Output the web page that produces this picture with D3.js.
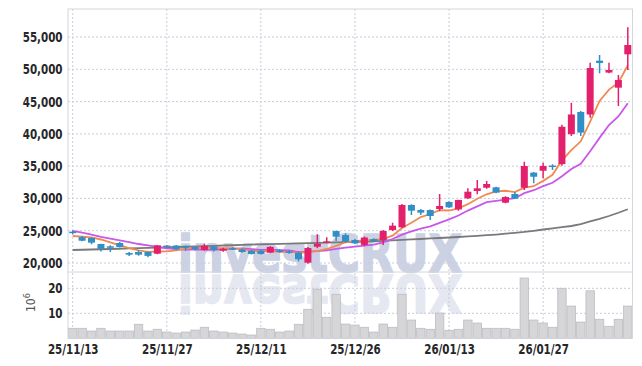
<!DOCTYPE html>
<html>
<head>
<meta charset="utf-8">
<script src="https://cdn.jsdelivr.net/npm/d3@7"></script>
<style>
    body { margin: 0; background: #fff; }
    .tick text { font-family: 'DejaVu Sans Condensed', sans-serif; }
</style>
</head>
<body>
<svg id="chart" width="642" height="366"></svg>
<script>
const dates = [
    '25/11/13', '25/11/14', '25/11/17', '25/11/18', '25/11/19', '25/11/20', '25/11/21', '25/11/24', '25/11/25', '25/11/26',
    '25/11/27', '25/11/28', '25/12/01', '25/12/02', '25/12/03', '25/12/04', '25/12/05', '25/12/08', '25/12/09', '25/12/10',
    '25/12/11', '25/12/12', '25/12/15', '25/12/16', '25/12/17', '25/12/18', '25/12/19', '25/12/22', '25/12/23', '25/12/24',
    '25/12/26', '25/12/29', '25/12/30', '26/01/02', '26/01/05', '26/01/06', '26/01/07', '26/01/08', '26/01/09', '26/01/12',
    '26/01/13', '26/01/14', '26/01/15', '26/01/16', '26/01/19', '26/01/20', '26/01/21', '26/01/22', '26/01/23', '26/01/26',
    '26/01/27', '26/01/28', '26/01/29', '26/01/30', '26/02/02', '26/02/03', '26/02/04', '26/02/05', '26/02/06', '26/02/09'
]
const opens = [
    24850, 24000, 23870, 22940, 22590, 23100, 21550, 21700, 21700, 21440,
    22700, 22700, 22600, 22500, 22000, 22550, 21900, 22300, 22100, 21900,
    21900, 21600, 21950, 21800, 21600, 20050, 22520, 23200, 24950, 24330,
    23560, 22800, 23700, 23560, 25100, 25530, 28980, 28200, 28200, 28360,
    29450, 28300, 30020, 31150, 31660, 31720, 29340, 30690, 31660, 34000,
    34290, 35090, 35320, 39950, 43390, 43000, 51340, 49490, 47150, 52320
]
const highs = [
    25050, 24180, 24000, 23000, 22740, 23250, 21700, 21970, 21800, 22800,
    22800, 22800, 22700, 22650, 23000, 22700, 22350, 22450, 22250, 22000,
    22100, 22600, 22150, 21950, 21700, 22480, 24450, 23980, 25000, 24600,
    23700, 24100, 23850, 25100, 26240, 29140, 29100, 28350, 28300, 30700,
    29550, 29800, 31570, 32850, 32700, 31800, 30350, 31000, 35690, 34100,
    35530, 35300, 41420, 44830, 43540, 51000, 52200, 51010, 49120, 56500
]
const lows = [
    24450, 23360, 22900, 21800, 21700, 22400, 21100, 21130, 20900, 21350,
    22450, 22000, 21900, 21950, 21900, 21800, 21750, 22050, 21600, 21300,
    21300, 21500, 21600, 21450, 20250, 19900, 22300, 23050, 23400, 23100,
    22950, 22650, 23200, 22800, 24950, 25400, 27430, 27430, 26650, 28000,
    28500, 28100, 29900, 30650, 31500, 30800, 29240, 29900, 31300, 32340,
    33120, 34400, 35060, 39670, 39670, 42500, 49380, 49380, 44310, 49900
]
const closes = [
    24750, 23450, 23150, 22200, 22430, 22480, 21290, 21290, 21100, 22740,
    22550, 22150, 22450, 22150, 22650, 22050, 22200, 22200, 21700, 21400,
    21400, 22500, 21700, 21600, 20570, 22320, 23000, 23350, 24080, 23300,
    23050, 23950, 23400, 24960, 25780, 28980, 28100, 27800, 27280, 28830,
    28620, 29760, 31040, 31570, 32230, 30900, 30220, 29960, 35020, 33360,
    35020, 34930, 41100, 43000, 40200, 50200, 50970, 49900, 48340, 53760
]
// volume, millions
const volumes = [
    4.0, 4.0, 2.9, 4.0, 2.9, 2.9, 2.9, 5.6, 2.9, 3.6,
    2.5, 2.1, 2.5, 3.3, 4.4, 2.9, 2.5, 2.1, 1.7, 1.3,
    4.0, 3.6, 2.5, 2.9, 5.6, 11.6, 19.6, 8.4, 17.6, 5.7,
    5.3, 4.4, 2.5, 5.7, 4.4, 17.6, 7.3, 4.0, 3.6, 10.1,
    3.2, 3.6, 7.3, 6.1, 4.0, 4.0, 4.0, 3.6, 24.1, 7.3,
    6.1, 4.4, 20.0, 12.9, 6.5, 19.0, 7.6, 4.8, 7.6, 12.9
]
const ma5 = [
    24180, 24100, 23950, 23640, 23200, 22740, 22310, 21940, 21720, 21780,
    21790, 21970, 22200, 22410, 22390, 22290, 22300, 22250, 22160, 21910,
    21780, 21840, 21740, 21720, 21550, 21740, 21840, 22170, 22660, 23210,
    23360, 23550, 23560, 23730, 24230, 25410, 26240, 27120, 27590, 28200,
    28130, 28460, 29110, 29960, 30640, 31100, 31190, 30980, 31670, 31890,
    32720, 33660, 35890, 37480, 38850, 41890, 45090, 46850, 47920, 50630
]
const ma10 = [
    24960, 24690, 24380, 24030, 23760, 23510, 23250, 22940, 22740, 22490,
    22270, 22140, 22070, 22060, 22090, 22040, 22130, 22220, 22280, 22150,
    22040, 22070, 22000, 21940, 21730, 21760, 21840, 21950, 22190, 22380,
    22550, 22690, 22860, 23200, 23720, 24390, 24900, 25340, 25660, 26210,
    26770, 27350, 28120, 28780, 29420, 29610, 29830, 30040, 30820, 31270,
    31910, 32430, 33430, 34570, 35370, 37300, 39380, 41370, 42700, 44740
]
const maLong = [
    22010, 22050, 22090, 22130, 22170, 22210, 22260, 22300, 22340, 22390,
    22430, 22480, 22520, 22570, 22610, 22660, 22710, 22750, 22800, 22850,
    22900, 22930, 22970, 23000, 23040, 23070, 23110, 23150, 23180, 23220,
    23250, 23310, 23370, 23440, 23510, 23580, 23650, 23720, 23800, 23870,
    23950, 24030, 24120, 24210, 24310, 24410, 24540, 24670, 24810, 24990,
    25190, 25360, 25540, 25730, 26030, 26430, 26830, 27280, 27780, 28320
]
const priceTicks = [20000, 25000, 30000, 35000, 40000, 45000, 50000, 55000]
const volumeTicks = [10, 20]
const dateTicks = [0, 10, 20, 30, 40, 50]

const UP = '#e3206b'
const DOWN = '#2f8fc6'
const GRID = '#c9ccda'
const FRAME = '#d4d6de'

const createChart = () => {
    let margin = { top: 9, right: 9.5, left: 68, bottom: 28 }
    let w = 642, h = 366
    let priceBottom = 272
    let volBottom = h - margin.bottom

    let svg = d3.select('#chart')

    let x = d3.scaleLinear()
        .domain([-0.5, dates.length - 0.5])
        .range([margin.left, w - margin.right])
    let step = x(1) - x(0)

    let y = d3.scaleLinear()
        .domain([20000, 55000])
        .range([263, 37])

    let yv = d3.scaleLinear()
        .domain([0, 20])
        .range([volBottom + 0.3, 288.3])

    svg.append('defs').append('clipPath')
        .attr('id', 'priceClip')
        .append('rect')
        .attr('x', margin.left)
        .attr('y', margin.top)
        .attr('width', w - margin.right - margin.left)
        .attr('height', priceBottom - margin.top)

    // watermark + reflection
    let wm = svg.append('g').attr('class', 'watermark')
        .style('font-family', 'DejaVu Sans')
        .style('font-weight', 'bold')
        .style('font-size', '51px')
        .style('stroke-width', 1.6)
    wm.append('text')
        .attr('x', 178)
        .attr('y', 271.5)
        .attr('textLength', 284)
        .attr('lengthAdjust', 'spacingAndGlyphs')
        .style('fill', '#ccd2e4')
        .style('stroke', '#ccd2e4')
        .text('investCRUX')
    wm.append('text')
        .attr('transform', 'translate(0,546) scale(1,-1)')
        .attr('x', 178)
        .attr('y', 271.5)
        .attr('textLength', 284)
        .attr('lengthAdjust', 'spacingAndGlyphs')
        .style('fill', '#e5e8f1')
        .style('stroke', '#e5e8f1')
        .text('investCRUX')

    // grid
    let grid = svg.append('g').attr('class', 'grid')
    grid.selectAll('line.hp')
        .data(priceTicks)
        .enter().append('line')
        .attr('x1', margin.left).attr('x2', w - margin.right)
        .attr('y1', d => y(d)).attr('y2', d => y(d))
    grid.selectAll('line.hv')
        .data(volumeTicks)
        .enter().append('line')
        .attr('x1', margin.left).attr('x2', w - margin.right)
        .attr('y1', d => yv(d)).attr('y2', d => yv(d))
    grid.selectAll('line.v')
        .data(dateTicks)
        .enter().append('line')
        .attr('x1', d => x(d)).attr('x2', d => x(d))
        .attr('y1', margin.top).attr('y2', volBottom)
    grid.selectAll('line')
        .style('stroke', GRID)
        .style('stroke-width', 1)
        .style('stroke-dasharray', '2,2')

    // volume bars
    svg.append('g').selectAll('rect')
        .data(volumes)
        .enter().append('rect')
        .attr('x', (d, i) => x(i) - step / 2 + 0.5)
        .attr('y', d => yv(d))
        .attr('width', step - 1)
        .attr('height', d => yv(0) - yv(d))
        .style('fill', '#d6d6d9')
        .style('stroke', '#bdbdc2')
        .style('stroke-width', 0.8)

    let plot = svg.append('g').attr('clip-path', 'url(#priceClip)')

    // moving averages
    const addLine = (values, color) => {
        plot.append('path')
            .datum(values)
            .attr('d', d3.line().x((d, i) => x(i)).y(d => y(d)))
            .style('fill', 'none')
            .style('stroke', color)
            .style('stroke-width', 1.8)
    }
    addLine(maLong, '#7a7a7e')
    addLine(ma10, '#c957e8')
    addLine(ma5, '#f08a52')

    // candles
    let candles = plot.selectAll('g.candle')
        .data(dates)
        .enter().append('g')
        .attr('class', 'candle')
        .style('fill', (d, i) => closes[i] >= opens[i] ? UP : DOWN)
        .style('stroke', (d, i) => closes[i] >= opens[i] ? UP : DOWN)
    candles.append('line')
        .attr('x1', (d, i) => x(i)).attr('x2', (d, i) => x(i))
        .attr('y1', (d, i) => y(highs[i])).attr('y2', (d, i) => y(lows[i]))
        .style('stroke-width', 1.5)
    candles.append('rect')
        .attr('x', (d, i) => x(i) - 3.5)
        .attr('y', (d, i) => y(Math.max(opens[i], closes[i])))
        .attr('width', 7)
        .attr('height', (d, i) => Math.max(1.5, Math.abs(y(opens[i]) - y(closes[i]))))
        .style('stroke', 'none')
        .append('title')
        .text((d, i) => `${d}: ${d3.format(',d')(closes[i])}`)

    // frame
    let frame = svg.append('g')
    frame.append('rect')
        .attr('x', margin.left).attr('y', margin.top)
        .attr('width', w - margin.right - margin.left)
        .attr('height', volBottom - margin.top)
    frame.append('line')
        .attr('x1', margin.left).attr('x2', w - margin.right)
        .attr('y1', priceBottom).attr('y2', priceBottom)
    frame.selectAll('*')
        .style('fill', 'none')
        .style('stroke', FRAME)
        .style('stroke-width', 1)

    // axes (narrow labels: squeeze horizontally)
    const styleAxis = g => {
        g.select('.domain').remove()
        g.selectAll('.tick line').remove()
        g.selectAll('.tick text')
            .attr('transform', 'scale(0.82,1)')
            .style('font-size', '14px')
            .style('font-weight', 'bold')
            .style('fill', '#262629')
    }

    svg.append('g')
        .attr('transform', `translate(${margin.left - 3},0)`)
        .call(d3.axisLeft(y).tickValues(priceTicks).tickFormat(d3.format(',d')).tickSize(0))
        .call(styleAxis)

    svg.append('g')
        .attr('transform', `translate(${margin.left - 3},0)`)
        .call(d3.axisLeft(yv).tickValues(volumeTicks).tickSize(0))
        .call(styleAxis)

    svg.append('g')
        .attr('transform', `translate(0,${volBottom + 3})`)
        .call(d3.axisBottom(x).tickValues(dateTicks).tickFormat(i => dates[i]).tickSize(0))
        .call(styleAxis)

    svg.append('text')
        .attr('transform', `translate(35,312) rotate(-90)`)
        .style('font-family', 'DejaVu Sans Condensed')
        .style('font-size', '12px')
        .style('fill', '#555')
        .html('10<tspan dy="-5" font-size="9px">6</tspan>')
}

createChart()
</script>
</body>
</html>
